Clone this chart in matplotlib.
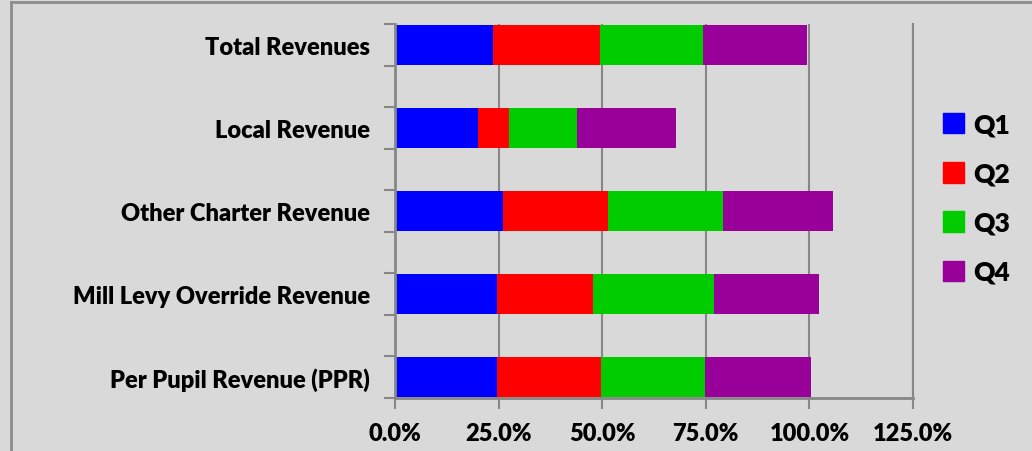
import matplotlib.pyplot as plt
import matplotlib.patches as mpatches
from matplotlib.lines import Line2D
from matplotlib.ticker import PercentFormatter, FixedLocator

# data (share of annual amount collected per quarter, %)
categories = ["Per Pupil Revenue (PPR)", "Mill Levy Override Revenue",
              "Other Charter Revenue", "Local Revenue", "Total Revenues"]
quarters = ["Q1", "Q2", "Q3", "Q4"]
q1 = [24.7, 24.7, 26.1, 20.1, 23.7]
q2 = [25.1, 23.2, 25.4, 7.5, 25.7]
q3 = [25.0, 29.0, 27.6, 16.4, 24.9]
q4 = [25.6, 25.4, 26.6, 23.7, 25.1]
colors = ["#0000FF", "#FF0000", "#00CC00", "#990099"]

plt.rcParams['font.family'] = ['Lato', 'DejaVu Sans']
plt.rcParams['font.weight'] = 'heavy'

bg = "#D9D9D9"
grid_c = "#878787"

fig = plt.figure(figsize=(10.32, 4.52), dpi=100, facecolor=bg)
ax = fig.add_axes([395 / 1032, 1 - 399 / 452, (913 - 395) / 1032, (399 - 25) / 452])
ax.set_facecolor(bg)

# bars sit on every other slot, empty slots between them
ypos = [0, 2, 4, 6, 8]
left = [0] * len(categories)
for name, vals, c in zip(quarters, [q1, q2, q3, q4], colors):
    ax.barh(ypos, vals, left=left, height=0.95, color=c, label=name, zorder=3)
    left = [l + v for l, v in zip(left, vals)]

ax.set_xlim(0, 125)
ax.set_ylim(-0.5, 8.5)
ax.xaxis.set_major_locator(FixedLocator([0, 25, 50, 75, 100, 125]))
ax.xaxis.set_major_formatter(PercentFormatter(decimals=1))
ax.set_yticks(ypos)
ax.set_yticklabels(categories)
ax.set_yticks([y - 0.5 for y in range(10)], minor=True)

ax.grid(axis='x', color=grid_c, linewidth=1.5, zorder=0)
ax.spines['top'].set_visible(False)
ax.spines['right'].set_color(grid_c)
ax.spines['right'].set_linewidth(1.5)
for s in ['left', 'bottom']:
    ax.spines[s].set_color(grid_c)
    ax.spines[s].set_linewidth(2)
    ax.spines[s].set_zorder(4)

ax.tick_params(axis='x', length=8, width=1.5, color=grid_c, pad=9, labelsize=17)
ax.tick_params(axis='y', which='major', length=0, pad=18, labelsize=17)
ax.tick_params(axis='y', which='minor', length=8, width=1.5, color=grid_c)

handles = [mpatches.Patch(color=c, label=q) for c, q in zip(colors, quarters)]
fig.legend(handles=handles, loc='upper left', bbox_to_anchor=(932 / 1032, 1 - 103 / 452),
           frameon=False, fontsize=19, handlelength=0.8, handleheight=0.8,
           handletextpad=0.35, labelspacing=0.95, borderaxespad=0)

# outer chart border (only the top and left edges fall inside the picture)
bx, by = 11 / 1032, 1 - 3 / 452
fig.add_artist(Line2D([bx, 1.0], [by, by], transform=fig.transFigure, color="#8C8C8C", linewidth=2))
fig.add_artist(Line2D([bx, bx], [0.0, by], transform=fig.transFigure, color="#8C8C8C", linewidth=2))

fig.savefig("out.png", dpi=100, facecolor=bg)
